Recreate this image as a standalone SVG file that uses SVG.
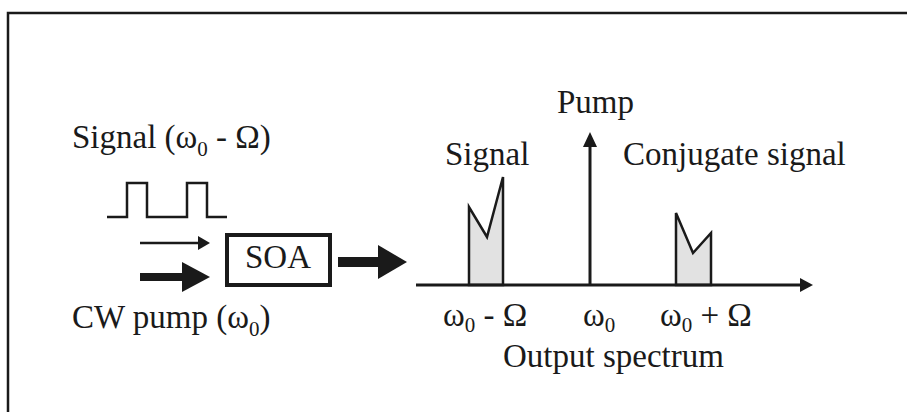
<svg xmlns="http://www.w3.org/2000/svg" width="907" height="412" viewBox="0 0 907 412">
<style>
  text { font-family: "Liberation Serif", "Times New Roman", serif; font-size: 33px; fill: #1a1a1a; }
  .sub { font-size: 21px; }
  .ln { fill: none; stroke: #1a1a1a; stroke-width: 2.5; }
  .peak { fill: #e2e2e2; stroke: #1a1a1a; stroke-width: 2.5; stroke-linejoin: miter; }
  .solid { fill: #1a1a1a; stroke: none; }
</style>
<rect width="907" height="412" fill="#ffffff"/>
<path d="M8,412 V13 H907" fill="none" stroke="#1a1a1a" stroke-width="2.5"/>

<g id="signal-input">
  <text x="72" y="148">Signal (ω<tspan class="sub" dy="8">0</tspan><tspan dy="-8"> - Ω)</tspan></text>
  <polyline class="ln" points="107,217 127,217 127,183 147,183 147,217 187,217 187,183 207,183 207,217 227,217"/>
</g>

<g id="pump-input">
  <text x="72" y="328">CW pump (ω<tspan class="sub" dy="8">0</tspan><tspan dy="-8">)</tspan></text>
</g>

<g id="soa">
  <rect x="227" y="235" width="103" height="50" fill="#ffffff" stroke="#1a1a1a" stroke-width="4"/>
  <text x="278" y="268" text-anchor="middle" font-size="30">SOA</text>
</g>

<g id="spectrum">
  <polygon class="peak" points="469,285 469,207 487,237 503,177 503,285"/>
  <polygon class="peak" points="676,285 676,213 693,253 711,233 711,285"/>
  <text x="445" y="165">Signal</text>
  <text x="557" y="113">Pump</text>
  <text x="623" y="165">Conjugate signal</text>
  <text x="443" y="326">ω<tspan class="sub" dy="6">0</tspan><tspan dy="-6"> - Ω</tspan></text>
  <text x="583" y="326">ω<tspan class="sub" dy="6">0</tspan></text>
  <text x="660" y="326">ω<tspan class="sub" dy="6">0</tspan><tspan dy="-6"> + Ω</tspan></text>
  <text x="503" y="367">Output spectrum</text>
</g>

<g id="connectors">
  <line x1="140" y1="243" x2="200" y2="243" stroke="#1a1a1a" stroke-width="2.5"/>
  <polygon class="solid" points="198,236 210,243 198,250"/>
  <rect class="solid" x="140" y="273" width="44" height="8"/>
  <polygon class="solid" points="182,262 210,277 182,292"/>
  <rect class="solid" x="338" y="257" width="42" height="10"/>
  <polygon class="solid" points="378,245 407,262 378,279"/>
  <line x1="416" y1="285" x2="802" y2="285" stroke="#1a1a1a" stroke-width="3"/>
  <polygon class="solid" points="800,278 813,285 800,292"/>
  <line x1="590" y1="286" x2="590" y2="145" stroke="#1a1a1a" stroke-width="3"/>
  <polygon class="solid" points="583,147 590,132 597,147"/>
</g>
</svg>
